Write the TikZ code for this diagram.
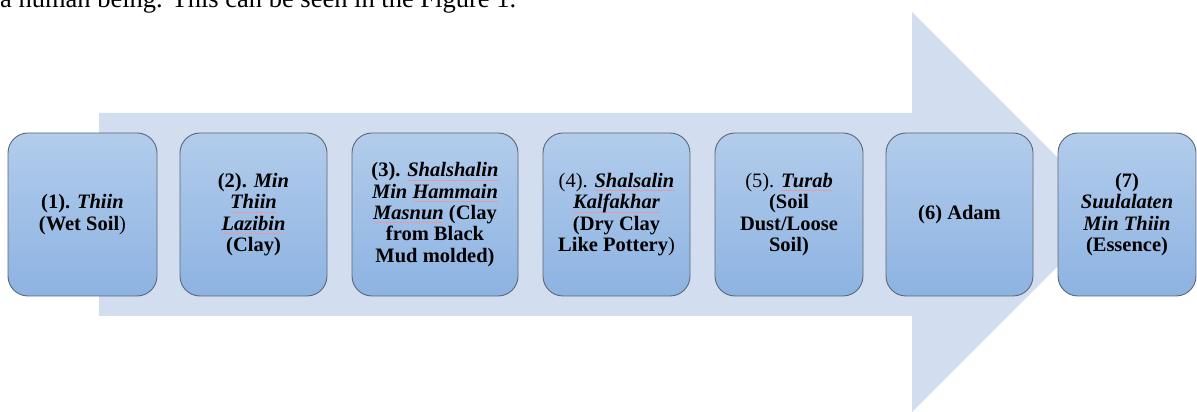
\documentclass[tikz,border=0pt]{standalone}
\usepackage{fontspec}
\setmainfont{Liberation Serif}

\definecolor{arrowfill}{HTML}{D2DEEF}
\definecolor{boxtop}{HTML}{B2CCEB}
\definecolor{boxbot}{HTML}{8DB3E2}
\definecolor{boxline}{HTML}{5C6673}
\definecolor{spell}{HTML}{E59AA6}

% bold italic term
\newcommand\bi[1]{\textbf{\textit{#1}}}
% thin proofing underline under a word
\newcommand\spellmark[1]{\setbox0\hbox{#1}\rlap{\textcolor{spell}{\rule[-3.6pt]{\wd0}{0.7pt}}}\box0}

\begin{document}
\begin{tikzpicture}[x=1pt,y=1pt,
  stage/.style={draw=boxline, line width=0.9pt, rounded corners=20pt,
    top color=boxtop, bottom color=boxbot, align=center,
    minimum height=163pt, inner sep=0pt,
    font=\fontsize{20.5}{21.3}\selectfont},
  intro/.style={anchor=base west, inner sep=0pt, font=\fontsize{26.5}{30}\selectfont}
]
\useasboundingbox (0,0) rectangle (1197,412);
\clip (0,0) rectangle (1197,412);

% running text line above the figure
\node[intro] (lead) at (0,404.5) {a human being. This can be seen in the Figure 1.};

% large block arrow behind the stages
\fill[arrowfill] (99,299) -- (912,299) -- (912,400) -- (1112,200)
  -- (912,0) -- (912,96) -- (99,96) -- cycle;

% the seven stages
\node[stage, minimum width=149pt] (s1) at (82.5,197.5)
  {\textbf{(1).} \bi{Thiin}\\\textbf{(Wet Soil})};
\node[stage, minimum width=147pt] (s2) at (253.5,197.5)
  {\textbf{(2).} \bi{Min}\\\bi{\spellmark{Thiin}}\\\bi{\spellmark{Lazibin}}\\\textbf{(Clay)}};
\node[stage, minimum width=166pt] (s3) at (435,197.5)
  {\textbf{(3).} \bi{\spellmark{Shalshalin}}\\\bi{Min \spellmark{Hammain}}\\\bi{\spellmark{Masnun}} \textbf{(Clay}\\\textbf{from Black}\\\textbf{Mud molded)}};
\node[stage, minimum width=147pt] (s4) at (616.5,197.5)
  {(4). \bi{\spellmark{Shalsalin}}\\\bi{\spellmark{Kalfakhar}}\\\textbf{(Dry Clay}\\\textbf{Like Pottery})};
\node[stage, minimum width=148pt] (s5) at (789,197.5)
  {(5). \bi{\spellmark{Turab}}\\\textbf{(Soil}\\\textbf{Dust/Loose}\\\textbf{Soil)}};
\node[stage, minimum width=147pt] (s6) at (959.5,197.5)
  {\textbf{(6) Adam}};
\node[stage, minimum width=138pt] (s7) at (1127,197.5)
  {\textbf{(7)}\\\bi{Suulalaten}\\\bi{Min Thiin}\\\textbf{(Essence)}};
\end{tikzpicture}
\end{document}
